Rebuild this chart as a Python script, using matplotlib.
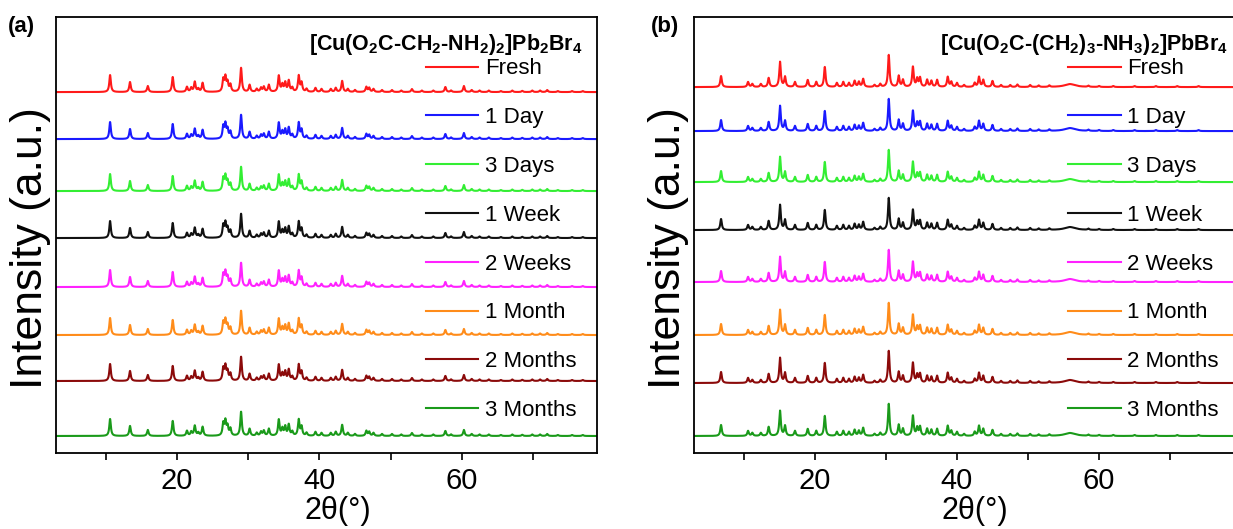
import numpy as np
import matplotlib
matplotlib.use("Agg")
import matplotlib.pyplot as plt
from matplotlib.ticker import MultipleLocator

plt.rcParams["font.family"] = ["Liberation Sans", "DejaVu Sans"]
plt.rcParams["mathtext.fontset"] = "custom"
plt.rcParams["mathtext.rm"] = "Liberation Sans:bold"
plt.rcParams["mathtext.it"] = "Liberation Sans:bold"
plt.rcParams["mathtext.bf"] = "Liberation Sans:bold"

# sample ages, one trace each (top to bottom)
labels = ["Fresh", "1 Day", "3 Days", "1 Week", "2 Weeks", "1 Month", "2 Months", "3 Months"]
colors = ["#ff1a1a", "#1a1aff", "#33ee33", "#111111", "#ff22ff", "#ff8c1a", "#8b0a0a", "#1a9a1a"]

# vertical offsets of each trace (a.u.)
offsets_a = [361, 314, 262, 215, 166, 118, 72, 17]
offsets_b = [366, 322, 271, 223, 171, 118, 70, 17]

# panel (a) [Cu(O2C-CH2-NH2)2]Pb2Br4 : peak positions (2theta) and heights
pos_a = [10.6, 13.4, 15.9, 19.4, 21.4, 22.0, 22.5, 23.0, 23.6, 26.5, 26.8, 27.1, 27.5,
         29.0, 30.2, 31.2, 31.8, 32.2, 32.9, 34.3, 34.8, 35.2, 35.7, 36.2, 37.1, 37.5,
         38.2, 39.45, 40.3, 41.6, 42.3, 43.2, 44.0, 45.0, 46.6, 47.0, 47.6, 48.8, 50.2,
         51.5, 53.0, 54.4, 56.0, 57.7, 58.5, 60.3, 61.4, 62.5, 63.8, 65.5, 67.1, 68.5,
         69.9, 71.0, 72.0, 73.5, 75.5, 77.0]
hgt_a = [17, 10, 6, 15, 5, 4, 10, 3, 9, 12, 14, 9, 7,
         24, 7, 3, 4, 5, 7, 16, 7, 9, 11, 4, 16, 9,
         3, 4, 3, 3, 4, 11, 3, 2, 5, 4, 3, 2, 2,
         1.5, 3, 1.5, 1.5, 5, 1.5, 6, 2, 1.5, 1.5, 1, 1.5, 1.2,
         1.5, 1.5, 2, 1, 1, 1]

# panel (b) [Cu(O2C-(CH2)3-NH3)2]PbBr4
pos_b = [6.8, 10.6, 11.2, 12.4, 13.5, 15.1, 15.8, 17.2, 19.0, 20.2, 21.4, 23.1, 24.0,
         24.8, 25.6, 26.2, 26.8, 28.4, 29.2, 30.4, 31.8, 32.4, 33.8, 34.4, 34.8, 35.8,
         36.4, 37.2, 38.7, 39.2, 40.0, 41.0, 42.5, 43.1, 43.7, 45.0, 46.2, 47.5, 48.5,
         50.3, 51.5, 53.0, 55.9, 58.5, 60.0, 62.0, 65.0, 68.0, 71.0, 74.0]
hgt_b = [11, 5, 3, 3, 9, 25, 10, 5, 7, 5, 20, 4, 5,
         4, 6, 5, 8, 2, 3, 32, 11, 7, 20, 8, 9, 7,
         6, 7, 10, 5, 4, 2, 4, 10, 7, 6, 2, 2, 2.5,
         2, 1.5, 1.5, 3, 1.2, 1, 1, 1, 1, 1, 1]
wid_b = [0.13] * len(pos_b)
wid_b[pos_b.index(55.9)] = 0.9

two_theta = np.arange(3, 79.01, 0.02)


def pattern(pos, hgt, wid=None):
    if wid is None:
        wid = [0.13] * len(pos)
    y = np.zeros_like(two_theta)
    for p, h, w in zip(pos, hgt, wid):
        y += h / (1 + ((two_theta - p) / w) ** 2)
    return y


fig = plt.figure(figsize=(12.33, 5.29), dpi=100)
ax_a = fig.add_axes([0.0454, 0.1437, 0.4388, 0.824])
ax_b = fig.add_axes([0.5629, 0.1437, 0.4380, 0.824])

panels = [
    (ax_a, pattern(pos_a, hgt_a), offsets_a,
     "[Cu(O$_2$C-CH$_2$-NH$_2$)$_2$]Pb$_2$Br$_4$", 0.974, 0.684),
    (ax_b, pattern(pos_b, hgt_b, wid_b), offsets_b,
     "[Cu(O$_2$C-(CH$_2$)$_3$-NH$_3$)$_2$]PbBr$_4$", 0.989, 0.693),
]

for ax, prof, offs, title, tx, lx in panels:
    for lab, col, off in zip(labels, colors, offs):
        ax.plot(two_theta, prof + off, color=col, lw=1.5, label=lab)
    ax.set_xlim(3, 79)
    ax.set_ylim(0, 436)
    ax.set_yticks([])
    ax.xaxis.set_major_locator(MultipleLocator(20))
    ax.xaxis.set_minor_locator(MultipleLocator(10))
    ax.tick_params(axis="x", which="both", direction="out", length=5, width=1.2,
                   labelsize=21, pad=5)
    for sp in ax.spines.values():
        sp.set_linewidth(1.3)
    ax.set_xlabel("2θ(°)", fontsize=22, ha="center", va="center")
    ax.xaxis.set_label_coords(0.52, -0.132)
    ax.set_ylabel("Intensity (a.u.)", fontsize=32, ha="center", va="center")
    ax.yaxis.set_label_coords(-0.048, 0.47)
    ax.text(tx, 0.936, title, transform=ax.transAxes, ha="right", va="center",
            fontsize=15.5, fontweight="bold")
    ax.legend(loc="upper left", bbox_to_anchor=(lx, 0.905), frameon=False,
              fontsize=16, handlelength=2.35, handletextpad=0.3,
              labelspacing=1.25, borderpad=0, borderaxespad=0)

fig.text(0.006, 0.95, "(a)", fontsize=16, fontweight="bold", va="center")
fig.text(0.528, 0.95, "(b)", fontsize=16, fontweight="bold", va="center")

fig.savefig("out.png", dpi=100)
